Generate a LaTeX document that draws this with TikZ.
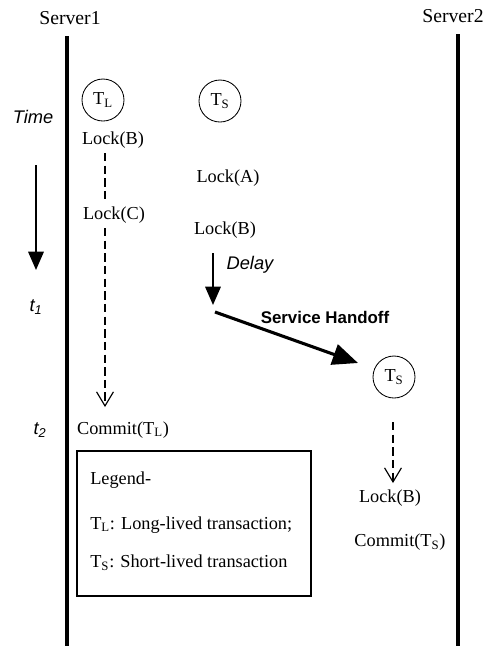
\documentclass[tikz,border=0pt]{standalone}
\usepackage{fontspec}
\setmainfont{Liberation Serif}
\setsansfont{Liberation Sans}
\usetikzlibrary{arrows.meta}
\pgfdeclarelayer{bg}
\pgfsetlayers{bg,main}

\begin{document}
\begin{tikzpicture}[
        txt/.style={font=\fontsize{13}{15}\selectfont, inner sep=0pt},
        head/.style={font=\fontsize{14}{16}\selectfont, inner sep=0pt},
        ital/.style={font=\fontsize{13}{15}\selectfont\sffamily\itshape, inner sep=0pt},
        trans/.style={draw, circle, semithick, minimum size=1.05cm, inner sep=0pt,
                font=\fontsize{13}{15}\selectfont},
        server/.style={line width=3.4pt},
        dash line/.style={thick, dash pattern=on 6pt off 3pt},
        wait/.style={dash line, -{Straight Barb[length=10pt,width=12pt]}},
        tick/.style={line width=1.2pt, -{Triangle[length=13pt,width=11pt]}},
        handoff/.style={line width=2.2pt, -{Triangle[length=18pt,width=15pt]}}
]
        \useasboundingbox (0cm, 0cm) rectangle (12.275000cm, -16.150000cm);
        % servers
        \node (srv1) [head] at (1.750000cm, -0.450000cm) {Server1};
        \node (srv2) [head] at (11.325000cm, -0.400000cm) {Server2};
        \coordinate (s1top) at (1.675000cm, -0.900000cm);
        \coordinate (s1bot) at (1.675000cm, -16.150000cm);
        \coordinate (s2top) at (11.450000cm, -0.850000cm);
        \coordinate (s2bot) at (11.450000cm, -16.150000cm);
        % time axis
        \node (time) [ital] at (0.825000cm, -2.925000cm) {Time};
        \coordinate (tstart) at (0.900000cm, -4.125000cm);
        \coordinate (tend) at (0.900000cm, -6.750000cm);
        \node (t1) [ital] at (0.900000cm, -7.675000cm) {t\textsubscript{1}};
        \node (t2) [ital] at (1.000000cm, -10.750000cm) {t\textsubscript{2}};
        % long-lived transaction
        \node (tl) [trans] at (2.575000cm, -2.500000cm) {T\textsubscript{L}};
        \node (lockb1) [txt] at (2.825000cm, -3.500000cm) {Lock(B)};
        \node (lockc) [txt] at (2.850000cm, -5.375000cm) {Lock(C)};
        \node (commitl) [txt] at (3.075000cm, -10.750000cm) {Commit(T\textsubscript{L})};
        \coordinate (l1) at (2.625000cm, -3.825000cm);
        \coordinate (l2) at (2.625000cm, -5.075000cm);
        \coordinate (l3) at (2.625000cm, -5.700000cm);
        \coordinate (l4) at (2.625000cm, -10.175000cm);
        % short-lived transaction
        \node (ts) [trans] at (5.500000cm, -2.525000cm) {T\textsubscript{S}};
        \node (locka) [txt] at (5.700000cm, -4.450000cm) {Lock(A)};
        \node (lockb2) [txt] at (5.625000cm, -5.750000cm) {Lock(B)};
        \node (delay) [ital] at (6.250000cm, -6.625000cm) {Delay};
        \coordinate (d1) at (5.325000cm, -6.325000cm);
        \coordinate (d2) at (5.325000cm, -7.625000cm);
        \coordinate (h1) at (5.375000cm, -7.800000cm);
        \coordinate (h2) at (8.950000cm, -9.075000cm);
        \node (hlabel) [head, font=\fontsize{12}{14}\selectfont\bfseries\sffamily] at (8.125000cm, -7.925000cm) {Service Handoff};
        \node (ts2) [trans] at (9.850000cm, -9.425000cm) {T\textsubscript{S}};
        \coordinate (r1) at (9.825000cm, -10.550000cm);
        \coordinate (r2) at (9.825000cm, -12.075000cm);
        \node (lockb3) [txt] at (9.750000cm, -12.450000cm) {Lock(B)};
        \node (commits) [txt] at (10.000000cm, -13.550000cm) {Commit(T\textsubscript{S})};
        % legend
        \node (legend) [draw, thick, minimum width=5.850000cm, minimum height=3.625000cm,
                inner sep=0pt] at (4.850000cm, -13.087500cm) {};
        \node (leg0) [txt, anchor=west] at (2.250000cm, -12.000000cm) {Legend-};
        \node (leg1) [txt, anchor=west] at (2.250000cm, -13.125000cm) {T\textsubscript{L}: Long-lived transaction;};
        \node (leg2) [txt, anchor=west] at (2.250000cm, -14.075000cm) {T\textsubscript{S}: Short-lived transaction};
        \begin{pgfonlayer}{bg}
                \draw (s1top) edge [server] (s1bot);
                \draw (s2top) edge [server] (s2bot);
                \draw (tstart) edge [tick] (tend);
                \draw (l1) edge [dash line] (l2);
                \draw (l3) edge [wait] (l4);
                \draw (d1) edge [tick] (d2);
                \draw (h1) edge [handoff] (h2);
                \draw (r1) edge [wait] (r2);
        \end{pgfonlayer}
\end{tikzpicture}
\end{document}
